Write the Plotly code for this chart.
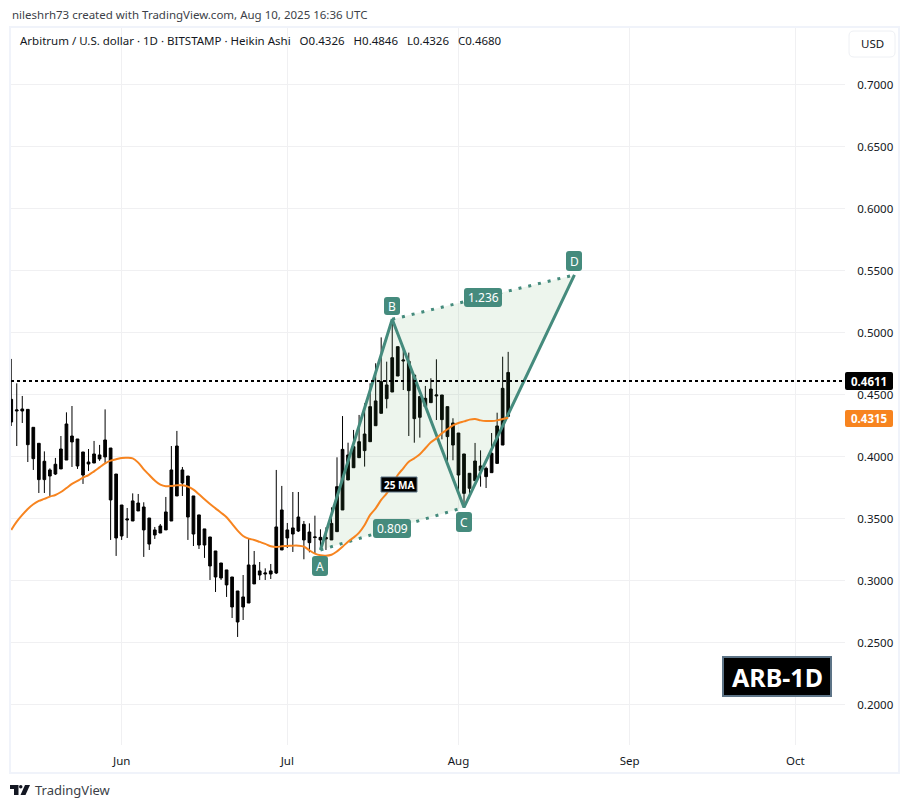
import pandas as pd
import plotly.graph_objects as go

# page body keeps its default 8px margin, so the figure sits at (8, 8)
PAGE_MARGIN = 8
W, H = 893, 792
PLOT_LEFT, PLOT_RIGHT, PLOT_TOP, PLOT_BOTTOM = 11, 845, 28, 745

dates = pd.date_range("2025-05-12", periods=91, freq="D")

highs = [
    .4789, .4592, .4490, .4382, .4237, .4108, .4043, .3906, .3990, .4167, .4358, .4409, .4143, .4038, .4062, .4127,
    .4095, .4382, .4070, .3860, .3610, .3586, .3704, .3699, .3632, .3505, .3433, .3457, .3675, .4086, .4208, .3917,
    .3844, .3683, .3530, .3417, .3352, .3239, .3142, .3086, .3029, .2916, .3045, .3344, .3239, .3150, .3099, .3134,
    .3893, .3764, .3465, .3715, .3715, .3481, .3462, .3524, .3414, .3430, .3591, .3995, .4328, .4113, .4216, .4337,
    .4431, .4592, .4754, .4963, .4767, .5103, .4888, .4893, .4840, .4659, .4485, .4571, .4633, .4786, .4498, .4404,
    .4310, .4191, .4022, .3866, .4111, .4051, .3920, .4191, .4355, .4807, .4846,
]
body_top = [
    .4463, .4377, .4385, .4382, .4237, .4108, .3963, .3893, .3939, .4062, .4264, .4167, .4143, .4038, .3957, .4022,
    .4014, .4135, .4070, .3860, .3610, .3497, .3643, .3626, .3594, .3505, .3409, .3441, .3554, .3893, .4086, .3893,
    .3844, .3683, .3530, .3417, .3352, .3239, .3142, .3086, .3029, .2916, .2868, .3126, .3126, .3078, .3061, .3078,
    .3433, .3570, .3409, .3425, .3513, .3454, .3392, .3352, .3349, .3347, .3462, .3758, .4059, .4014, .4081, .4121,
    .4183, .4404, .4450, .4606, .4579, .4799, .4888, .4780, .4770, .4659, .4485, .4471, .4546, .4498, .4498, .4404,
    .4272, .4191, .4022, .3866, .3965, .3925, .3906, .4027, .4248, .4552, .4680,
]
body_bottom = [
    .4280, .4369, .4369, .4097, .3984, .3815, .3815, .3844, .3860, .3901, .3973, .4119, .3925, .3852, .3941, .3949,
    .3982, .3998, .3651, .3344, .3360, .3489, .3481, .3562, .3409, .3295, .3368, .3384, .3409, .3481, .3683, .3788,
    .3513, .3376, .3287, .3287, .3118, .3029, .3021, .2965, .2787, .2666, .2787, .2819, .2973, .3045, .3053, .3053,
    .3061, .3247, .3344, .3376, .3400, .3328, .3306, .3347, .3328, .3336, .3328, .3395, .3570, .3812, .3911, .3992,
    .4049, .4121, .4250, .4350, .4468, .4522, .4651, .4772, .4533, .4307, .4318, .4404, .4436, .4490, .4299, .4162,
    .4094, .3852, .3704, .3745, .3807, .3887, .3839, .3871, .3946, .4094, .4326,
]
lows = [
    .4248, .4086, .4272, .3957, .3893, .3707, .3707, .3678, .3852, .3901, .3973, .3917, .3901, .3780, .3885, .3949,
    .3966, .3949, .3328, .3199, .3328, .3344, .3481, .3562, .3191, .3247, .3336, .3384, .3409, .3481, .3683, .3683,
    .3328, .3279, .3255, .3183, .3005, .2908, .3005, .2868, .2698, .2545, .2682, .2819, .2973, .3005, .3005, .3013,
    .3053, .3247, .3263, .3231, .3392, .3172, .3228, .3220, .3247, .3247, .3328, .3395, .3570, .3812, .3911, .3992,
    .3920, .4121, .4250, .4350, .4390, .4522, .4651, .4538, .4167, .4113, .4154, .4404, .4436, .4296, .4140, .3933,
    .3971, .3696, .3610, .3664, .3807, .3758, .3747, .3871, .3946, .4094, .4326,
]
ma_25 = [
    .3409, .3476, .3530, .3578, .3616, .3643, .3659, .3678, .3691, .3715, .3747, .3780, .3804, .3831, .3852, .3882,
    .3914, .3946, .3968, .3979, .3990, .3992, .3987, .3952, .3898, .3852, .3807, .3774, .3761, .3764, .3769, .3769,
    .3758, .3734, .3696, .3656, .3618, .3583, .3548, .3511, .3457, .3403, .3360, .3339, .3328, .3312, .3296, .3277,
    .3271, .3277, .3279, .3282, .3282, .3274, .3244, .3217, .3204, .3201, .3209, .3236, .3274, .3314, .3347, .3387,
    .3449, .3530, .3583, .3651, .3704, .3772, .3852, .3906, .3960, .3987, .4019, .4068, .4116, .4148, .4189, .4221,
    .4253, .4272, .4285, .4299, .4304, .4293, .4288, .4288, .4293, .4304, .4315,
]

# harmonic pattern points A, B, C, D
point_dates = ["2025-07-07", "2025-07-20", "2025-08-02", "2025-08-22"]
point_prices = [.3247, .5109, .3591, .5467]

last_price = .4611
ma_price = .4315

price_ticks = [.20, .25, .30, .35, .40, .45, .50, .55, .60, .65, .70]
price_tick_labels = ["%.4f" % p for p in price_ticks]
month_ticks = ["2025-06-01", "2025-07-01", "2025-08-01", "2025-09-01", "2025-10-01"]
month_labels = ["Jun", "Jul", "Aug", "Sep", "Oct"]

TEAL = "#458b7d"
ORANGE = "#f7841f"
FONT = "Noto Sans"


def fx(x):
    # screen pixel to paper fraction of the plot area
    return (x - PLOT_LEFT) / (PLOT_RIGHT - PLOT_LEFT)


def fy(y):
    return (PLOT_BOTTOM - y) / (PLOT_BOTTOM - PLOT_TOP)


def rounded_box(x0, y0, x1, y1, fill, line=None, r=3, line_width=1):
    path = (
        f"M {fx(x0 + r)} {fy(y0)} L {fx(x1 - r)} {fy(y0)} Q {fx(x1)} {fy(y0)} {fx(x1)} {fy(y0 + r)} "
        f"L {fx(x1)} {fy(y1 - r)} Q {fx(x1)} {fy(y1)} {fx(x1 - r)} {fy(y1)} "
        f"L {fx(x0 + r)} {fy(y1)} Q {fx(x0)} {fy(y1)} {fx(x0)} {fy(y1 - r)} "
        f"L {fx(x0)} {fy(y0 + r)} Q {fx(x0)} {fy(y0)} {fx(x0 + r)} {fy(y0)} Z"
    )
    return dict(
        type="path", path=path, xref="paper", yref="paper", fillcolor=fill, layer="above",
        line=dict(color=line or fill, width=line_width if line else 0),
    )


def label(x, y, text, size=12, color="#131722", bold=False, anchor="center"):
    return dict(
        x=fx(x), y=fy(y), xref="paper", yref="paper", text=f"<b>{text}</b>" if bold else text,
        showarrow=False, xanchor=anchor, yanchor="middle", xshift=0,
        font=dict(family=FONT, size=size, color=color),
    )


fig = go.Figure()

# fill between the two legs
fig.add_trace(go.Scatter(
    x=[point_dates[0], point_dates[1], point_dates[3], point_dates[2], point_dates[0]],
    y=[point_prices[0], point_prices[1], point_prices[3], point_prices[2], point_prices[0]],
    mode="lines", fill="toself", fillcolor="rgba(76,160,80,0.10)", line=dict(width=0), hoverinfo="skip",
))
fig.add_trace(go.Candlestick(
    x=dates, open=body_bottom, high=highs, low=lows, close=body_top, whiskerwidth=0,
    increasing=dict(line=dict(color="#000000", width=1), fillcolor="#000000"),
    decreasing=dict(line=dict(color="#000000", width=1), fillcolor="#000000"),
))
# solid legs A-B-C-D
fig.add_trace(go.Scatter(
    x=point_dates, y=point_prices, mode="lines", line=dict(color=TEAL, width=3), hoverinfo="skip",
))
# dotted legs A-C and B-D
fig.add_trace(go.Scatter(
    x=[point_dates[0], point_dates[2]], y=[point_prices[0], point_prices[2]], mode="lines",
    line=dict(color=TEAL, width=3, dash="3px 7px"), hoverinfo="skip",
))
fig.add_trace(go.Scatter(
    x=[point_dates[1], point_dates[3]], y=[point_prices[1], point_prices[3]], mode="lines",
    line=dict(color=TEAL, width=3, dash="3px 7px"), hoverinfo="skip",
))
fig.add_trace(go.Scatter(
    x=dates, y=ma_25, mode="lines", line=dict(color=ORANGE, width=2, shape="spline"), hoverinfo="skip",
))

shapes = [
    # chart frame
    dict(type="rect", xref="paper", yref="paper", x0=fx(10), x1=fx(899), y0=fy(27), y1=fy(773),
         line=dict(color="#f0f3fa", width=2), layer="below"),
    # last price line
    dict(type="line", xref="paper", yref="y", x0=fx(11), x1=fx(845), y0=last_price, y1=last_price,
         line=dict(color="#000000", width=2, dash="3px 3px"), layer="above"),
    rounded_box(845, 372, 893, 390, "#000000", r=2),
    rounded_box(845, 410, 893, 427, ORANGE, r=2),
    rounded_box(849, 31, 895, 57, "#ffffff", line="#eef0f4", r=5),
    # pattern labels
    rounded_box(312, 556, 328, 576, TEAL),
    rounded_box(384, 297, 400, 315, TEAL),
    rounded_box(456, 512, 472, 532, TEAL),
    rounded_box(566, 251, 582, 271, TEAL),
    rounded_box(464, 288, 502, 307, TEAL),
    rounded_box(373, 519, 411, 538, TEAL),
    dict(type="rect", xref="paper", yref="paper", x0=fx(381), x1=fx(417), y0=fy(477), y1=fy(492),
         fillcolor="#000000", line=dict(color="#5d7487", width=1), layer="above"),
    dict(type="rect", xref="paper", yref="paper", x0=fx(723), x1=fx(831), y0=fy(657), y1=fy(696),
         fillcolor="#000000", line=dict(color="#5d7487", width=2), layer="above"),
    # TradingView mark
    dict(type="path", xref="paper", yref="paper", fillcolor="#131722", line=dict(width=0), layer="above",
         path=f"M {fx(10)} {fy(785)} L {fx(18.5)} {fy(785)} L {fx(18.5)} {fy(795)} L {fx(14)} {fy(795)} "
              f"L {fx(14)} {fy(789)} L {fx(10)} {fy(789)} Z"),
    dict(type="circle", xref="paper", yref="paper", fillcolor="#131722", line=dict(width=0), layer="above",
         x0=fx(19), x1=fx(22.5), y0=fy(785), y1=fy(788.5)),
    dict(type="path", xref="paper", yref="paper", fillcolor="#131722", line=dict(width=0), layer="above",
         path=f"M {fx(25)} {fy(785)} L {fx(30)} {fy(785)} L {fx(25.5)} {fy(795)} L {fx(20.5)} {fy(795)} Z"),
]

annotations = [
    label(10, 14, "nileshrh73 created with TradingView.com, Aug 10, 2025 16:36 UTC", size=11.5, color="#3c3f48", anchor="left"),
    label(18, 41, "Arbitrum / U.S. dollar · 1D · BITSTAMP · Heikin Ashi&nbsp;&nbsp;&nbsp;O0.4326&nbsp;&nbsp;&nbsp;H0.4846&nbsp;&nbsp;&nbsp;L0.4326&nbsp;&nbsp;&nbsp;C0.4680",
          size=11.5, color="#131722", anchor="left"),
    label(869, 381, "%.4f" % last_price, size=11.5, color="#ffffff", bold=True),
    label(869, 418.5, "%.4f" % ma_price, size=11.5, color="#ffffff", bold=True),
    label(872, 44, "USD", size=11.5),
    label(320, 566, "A", color="#ffffff"),
    label(392, 306, "B", color="#ffffff"),
    label(464, 522, "C", color="#ffffff"),
    label(574, 261, "D", color="#ffffff"),
    label(483, 297.5, "1.236", color="#ffffff"),
    label(392, 528.5, "0.809", color="#ffffff"),
    label(399, 484.5, "25 MA", size=10, color="#ffffff", bold=True),
    label(777, 676.5, "ARB-1D", size=25, color="#ffffff", bold=True),
    label(33, 790, "TradingView", size=13, color="#3c3f48", anchor="left"),
]

fig.update_layout(
    width=W, height=H, autosize=False, showlegend=False, paper_bgcolor="#ffffff", plot_bgcolor="#ffffff",
    margin=dict(
        l=PLOT_LEFT - PAGE_MARGIN, r=W + PAGE_MARGIN - PLOT_RIGHT,
        t=PLOT_TOP - PAGE_MARGIN, b=H + PAGE_MARGIN - PLOT_BOTTOM, pad=0,
    ),
    shapes=shapes, annotations=annotations,
    font=dict(family=FONT, size=11.5, color="#131722"),
    xaxis=dict(
        range=["2025-05-11 23:00", "2025-10-10 00:00"], rangeslider=dict(visible=False), type="date",
        tickmode="array", tickvals=month_ticks, ticktext=month_labels, showgrid=True, gridcolor="#f0f0f2",
        gridwidth=1, zeroline=False, showline=False, ticks="outside", ticklen=5, tickcolor="#ffffff",
    ),
    yaxis=dict(
        range=[.1673, .746], side="right", tickmode="array", tickvals=price_ticks, ticktext=price_tick_labels,
        showgrid=True, gridcolor="#f0f0f2", gridwidth=1, zeroline=False, showline=False, ticks="outside",
        ticklen=9, tickcolor="#ffffff",
    ),
)

fig.write_html("out.html")
